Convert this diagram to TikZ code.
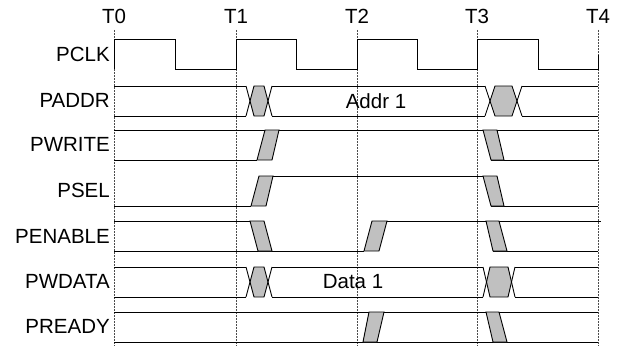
\documentclass[tikz,border=0pt]{standalone}
\usepackage{fontspec}
\setmainfont{Liberation Sans}
\usepackage{tikz}

\definecolor{slotgray}{RGB}{192,192,192}
\tikzset{
	sig/.style={line width=0.9pt},
	guide/.style={densely dotted, black!70, line width=0.5pt},
	slot/.style={sig, fill=slotgray},
	lbl/.style={anchor=east, inner sep=0pt},
	tick/.style={inner sep=0pt}
}
% bus crossing: start, end, width, top level, bottom level
\newcommand{\buscross}[5]{%
	\fill[slotgray] ({#1+#3/2},{(#4+#5)/2}) -- ({#1+#3},#4) -- ({#2-#3},#4) -- ({#2-#3/2},{(#4+#5)/2}) -- ({#2-#3},#5) -- ({#1+#3},#5) -- cycle;
	\draw[sig] (#1,#4) -- ({#1+#3},#5) -- ({#2-#3},#5) -- (#2,#4);
	\draw[sig] (#1,#5) -- ({#1+#3},#4) -- ({#2-#3},#4) -- (#2,#5);
}

\begin{document}
\begin{tikzpicture}[x={(1pt,0pt)}, y={(0pt,-1pt)}, font=\fontsize{20.5}{24}\selectfont]
			\useasboundingbox (0,0) rectangle (620,345);
			
			\node[tick] (t0) at (114,16.5) {T0};
			\node[tick] (t1) at (236,16.5) {T1};
			\node[tick] (t2) at (357,16.5) {T2};
			\node[tick] (t3) at (477,16.5) {T3};
			\node[tick] (t4) at (598,16.5) {T4};
			\foreach \t/\x in {t0/114, t1/236, t2/357, t3/477, t4/598}
				\draw[guide] (\t.south) ++(0,6) -- (\x,345);
			
			\node[lbl] (pclk) at (110,54) {PCLK};
			\node[lbl] (paddr) at (110,100.5) {PADDR};
			\node[lbl] (pwrite) at (110,144.5) {PWRITE};
			\node[lbl] (psel) at (110,190.5) {PSEL};
			\node[lbl] (penable) at (110,236) {PENABLE};
			\node[lbl] (pwdata) at (110,281.5) {PWDATA};
			\node[lbl] (pready) at (110,326.5) {PREADY};
			
			% PCLK
			\draw[sig] (114,69) -- (114,39) -- (175,39) -- (175,69) -- (236,69) -- (236,39) -- (296,39) -- (296,69)
				-- (357,69) -- (357,39) -- (417,39) -- (417,69) -- (477,69) -- (477,39) -- (538,39) -- (538,69)
				-- (598,69) -- (598,55);
			
			% PADDR
			\draw[sig] (114,86) -- (246,86) (272,86) -- (485,86) (522,86) -- (598,86);
			\draw[sig] (114,116) -- (246,116) (272,116) -- (485,116) (522,116) -- (598,116);
			\buscross{246}{272}{8}{86}{116}
			\buscross{485}{522}{10}{86}{116}
			\node (addr) at (376,101) {Addr 1};
			
			% PWRITE
			\draw[sig] (114,130) -- (598,130);
			\draw[sig] (114,160) -- (257,160) (491,160) -- (598,160);
			\draw[slot] (257,160) -- (272,160) -- (279,130) -- (265,130) -- cycle;
			\draw[slot] (483,130) -- (497,130) -- (504,160) -- (491,160) -- cycle;
			
			% PSEL
			\draw[sig] (114,206) -- (251,206) (259,176) -- (497,176) (491,206) -- (598,206);
			\draw[slot] (251,206) -- (266,206) -- (273,176) -- (259,176) -- cycle;
			\draw[slot] (483,176) -- (497,176) -- (504,206) -- (491,206) -- cycle;
			
			% PENABLE
			\draw[sig] (114,221) -- (250,221) (114,251) -- (364,251) (372,221) -- (601,221) (493,251) -- (598,251);
			\draw[slot] (250,221) -- (264,221) -- (272,251) -- (258,251) -- cycle;
			\draw[slot] (364,251) -- (379,251) -- (387,221) -- (372,221) -- cycle;
			\draw[slot] (486,221) -- (499,221) -- (507,251) -- (493,251) -- cycle;
			
			% PWDATA
			\draw[sig] (114,267) -- (246,267) (272,267) -- (483,267) (515,267) -- (598,267);
			\draw[sig] (114,297) -- (246,297) (272,297) -- (483,297) (515,297) -- (598,297);
			\buscross{246}{272}{8}{267}{297}
			\buscross{483}{515}{7}{267}{297}
			\node (data) at (353,282) {Data 1};
			
			% PREADY
			\draw[sig] (114,312) -- (598,312) (114,342) -- (598,342);
			\draw[slot] (363,342) -- (377,342) -- (384,312) -- (369,312) -- cycle;
			\draw[slot] (486,312) -- (499,312) -- (507,342) -- (493,342) -- cycle;
		\end{tikzpicture}
\end{document}
